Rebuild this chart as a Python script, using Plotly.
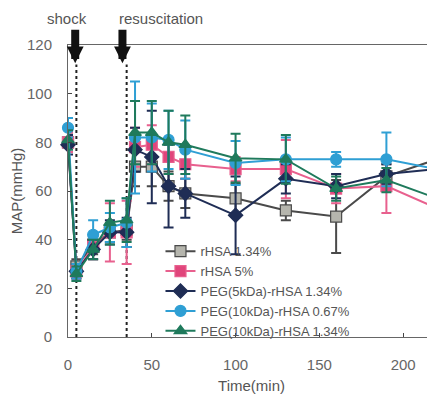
import plotly.graph_objects as go

times = [0, 5, 15, 25, 35, 40, 50, 60, 70, 100, 130, 160, 190, 220]

rhsa134 = [80, 29, 38, 43, 44, 70, 70, 62, 59, 57, 52, 49.5, 66, 73]
rhsa134_err = [4, 3, 4, 4, 4, 8, 8, 6, 6, 6, 4, 15, 5, 5]

rhsa5 = [80, 27, 37, 43, 43, 78, 79, 74, 71, 69, 69, 61, 62, 53]
rhsa5_err = [4, 3, 5, 12, 13, 8, 8, 7, 6, 5, 12, 6, 11, 16]

peg5 = [79, 27, 36, 43, 43, 77, 74, 62, 59, 50, 65, 62, 67, 69]
peg5_err = [4, 3, 4, 5, 6, 9, 19, 17, 10, 16, 6, 5, 4, 5]

peg10_067 = [86, 27, 42, 45, 47, 82, 82, 81, 77, 71.5, 73, 73, 73, 69]
peg10_067_err = [4, 3, 6, 6, 10, 23, 14, 12, 12, 9, 9, 3, 11, 5]

peg10_134 = [81, 26, 36, 47, 48, 84, 84, 80, 79, 73.5, 73, 61, 64.5, 57]
peg10_134_err = [4, 3, 4, 9, 9, 13, 13, 13, 12, 10, 10, 5, 5, 6]

series = [
    ("rHSA 1.34%", rhsa134, rhsa134_err, "#4a4a4a", "#b5b5ad", "square"),
    ("rHSA 5%", rhsa5, rhsa5_err, "#e8608e", "#e0457b", "square"),
    ("PEG(5kDa)-rHSA 1.34%", peg5, peg5_err, "#1f2d55", "#1f2d55", "diamond"),
    ("PEG(10kDa)-rHSA 0.67%", peg10_067, peg10_067_err, "#2f9fd4", "#2f9fd4", "circle"),
    ("PEG(10kDa)-rHSA 1.34%", peg10_134, peg10_134_err, "#1f7a5c", "#1f7a5c", "triangle-up"),
]

event_lines = [5, 35]
event_arrows = [4.3, 32.5]

fig = go.Figure()
for name, vals, err, lc, fc, sym in series:
    fig.add_trace(go.Scatter(
        x=times, y=vals, name=name, mode="lines+markers",
        line=dict(color=lc, width=2),
        marker=dict(symbol=sym, size=11, color=fc, line=dict(color=lc, width=1.2)),
        error_y=dict(type="data", array=err, visible=True, color=lc, thickness=2, width=5),
        cliponaxis=False,
    ))

for t in event_lines:
    fig.add_shape(type="line", x0=t, x1=t, y0=0, y1=112, xref="x", yref="y",
                  line=dict(color="#222", width=2, dash="dot"), layer="below")
for t in event_arrows:
    fig.add_annotation(x=t, y=112.5, xref="x", yref="y", text="", showarrow=True,
                       ax=0, ay=-35, arrowhead=2, arrowsize=0.42, arrowwidth=8,
                       arrowcolor="#111")

fig.add_annotation(x=-0.003, y=1.092, xref="paper", yref="paper", text="shock",
                   xanchor="center", yanchor="middle",
                   showarrow=False, font=dict(size=15, color="#555"))
fig.add_annotation(x=0.253, y=1.092, xref="paper", yref="paper", text="resuscitation",
                   xanchor="center", yanchor="middle",
                   showarrow=False, font=dict(size=15, color="#555"))

fig.update_layout(
    width=427, height=395,
    margin=dict(l=60, r=0, t=37, b=66),
    paper_bgcolor="white", plot_bgcolor="white",
    font=dict(family="Liberation Sans, Arial, sans-serif", color="#555"),
    showlegend=True,
    legend=dict(x=0.252, y=0.345, xanchor="left", yanchor="top",
                bgcolor="rgba(0,0,0,0)", font=dict(size=13, color="#555"),
                tracegroupgap=0, itemwidth=30),
    xaxis=dict(range=[0, 219], tickvals=[0, 50, 100, 150, 200], ticks="inside",
               ticklen=4, showline=True, linecolor="#666", linewidth=1, mirror=True,
               showgrid=False, zeroline=False, tickfont=dict(size=15, color="#666"),
               ticklabelstandoff=14,
               title=dict(text="Time(min)", font=dict(size=15, color="#555"), standoff=8)),
    yaxis=dict(range=[0, 120], tickvals=[0, 20, 40, 60, 80, 100, 120], ticks="inside",
               ticklen=4, showline=True, linecolor="#666", linewidth=1, mirror=True,
               showgrid=False, zeroline=False, tickfont=dict(size=15, color="#666"),
               ticklabelstandoff=12,
               title=dict(text="MAP(mmHg)", font=dict(size=15, color="#555"), standoff=2)),
)

fig.write_html("out.html")
